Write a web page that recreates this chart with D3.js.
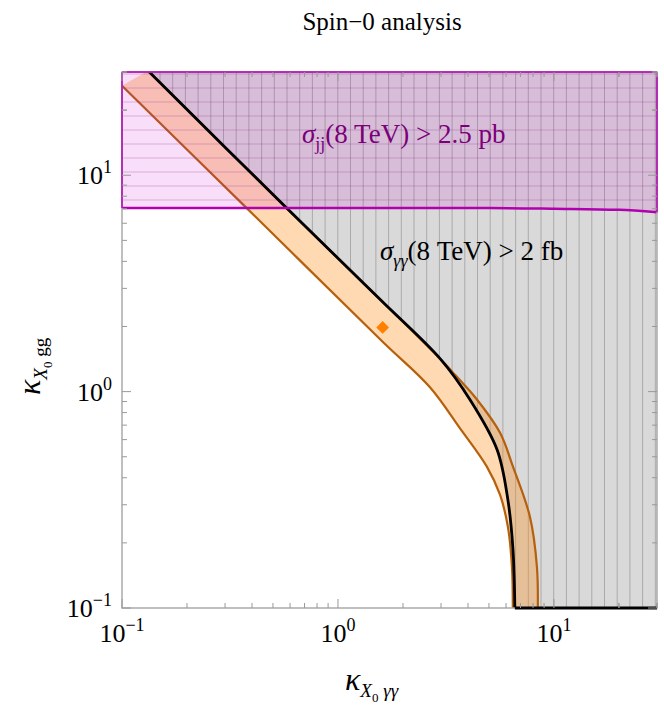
<!DOCTYPE html><html><head><meta charset="utf-8">
<script src="https://d3js.org/d3.v7.min.js"></script>
<style>body{margin:0;background:#fff}</style></head><body>
<script>
const title = "Spin\u22120 analysis";
const blackCurve = [[0.132,30.4],[0.58,7.03],[1.59,2.63],[2.99,1.41],[4.08,0.92],[5.45,0.54],[6.12,0.316],[6.46,0.186],[6.59,0.1]];
const bandUpper = [[0.132,30.4],[0.58,7.03],[1.59,2.63],[2.99,1.41],[3.5,1.19],[4.4,0.92],[5.63,0.645],[6.46,0.45],[7.74,0.264],[8.34,0.155],[8.42,0.1]];
const bandLower = [[0.1,25.9],[0.379,7.03],[1.61,1.70],[2.66,1.05],[3.66,0.68],[4.89,0.45],[5.63,0.333],[6.12,0.237],[6.39,0.155],[6.45,0.1]];
const jjLine = [[0.1,7.05],[1,7.05],[5,7.05],[10,7.0],[20,6.92],[30,6.75]];
const point = [1.61,1.98];
const tickVals = [0.1,1,10];
const tickExp = ["\u22121","0","1"];

const W=664,H=709,L=122,R=657,T=72,B=608;
const svg=d3.select("body").append("svg").attr("width",W).attr("height",H).style("font-family","'Liberation Serif', serif");
const x=d3.scaleLog().domain([0.1,30]).range([L,R]);
const y=d3.scaleLog().domain([0.1,30]).range([B,T]);
const line=d3.line().x(d=>x(d[0])).y(d=>y(d[1])).curve(d3.curveCatmullRom.alpha(0.5));
const defs=svg.append("defs");
defs.append("clipPath").attr("id","plot").append("rect").attr("x",L).attr("y",T).attr("width",R-L).attr("height",B-T);
const grayPath=line(blackCurve)+"L"+x(30)+","+y(0.1)+"L"+x(30)+","+y(30)+"Z";
defs.append("clipPath").attr("id","gray").append("path").attr("d",grayPath);
const g=svg.append("g").attr("clip-path","url(#plot)");
g.append("path").attr("d",grayPath).attr("fill","#d9d9d9");
const gh=g.append("g").attr("clip-path","url(#gray)");
for(let px=L+38;px<R;px+=12.7) gh.append("line").attr("x1",px).attr("x2",px).attr("y1",T).attr("y2",B).attr("stroke","#aaa").attr("stroke-width",1);
const bandPath=line(bandUpper)+"L"+line(bandLower.slice().reverse()).slice(1)+"Z";
g.append("path").attr("d",bandPath).attr("fill","rgba(255,140,20,0.33)");
g.append("path").attr("d",line(bandUpper)).attr("fill","none").attr("stroke","#b5600c").attr("stroke-width",2.2);
g.append("path").attr("d",line(bandLower)).attr("fill","none").attr("stroke","#b5600c").attr("stroke-width",2.2);
const jjArea=d3.area().x(d=>x(d[0])).y0(T).y1(d=>y(d[1]));
g.append("path").attr("d",jjArea(jjLine)).attr("fill","rgba(204,0,204,0.13)");
defs.append("clipPath").attr("id","jj").append("path").attr("d",jjArea(jjLine));
const jh=g.append("g").attr("clip-path","url(#jj)");
for(let py=T+2;py<y(7.05);py+=14) jh.append("line").attr("x1",L).attr("x2",R).attr("y1",py).attr("y2",py).attr("stroke","rgba(150,60,150,0.3)");
g.append("path").attr("d",line(blackCurve)).attr("fill","none").attr("stroke","#000").attr("stroke-width",2.8);
g.append("path").attr("d",d3.line().x(d=>x(d[0])).y(d=>y(d[1])).curve(d3.curveMonotoneX)(jjLine)).attr("fill","none").attr("stroke","#b000b0").attr("stroke-width",2.5);
g.append("rect").attr("width",9).attr("height",9).attr("x",x(point[0])-4.5).attr("y",y(point[1])-4.5).attr("fill","#ff8000").attr("transform",`rotate(45,${x(point[0])},${y(point[1])})`);
svg.append("rect").attr("x",L).attr("y",T).attr("width",R-L).attr("height",B-T).attr("fill","none").attr("stroke","#aaa").attr("stroke-width",1.5);
svg.append("line").attr("x1",L).attr("x2",R).attr("y1",T).attr("y2",T).attr("stroke","#b000b0").attr("stroke-width",1.5);
svg.append("line").attr("x1",L).attr("x2",L).attr("y1",T).attr("y2",y(7.05)).attr("stroke","#b000b0").attr("stroke-width",1.5);
svg.append("line").attr("x1",R).attr("x2",R).attr("y1",T).attr("y2",y(6.75)).attr("stroke","#b000b0").attr("stroke-width",1.5);
svg.append("line").attr("x1",x(6.59)).attr("x2",R).attr("y1",B).attr("y2",B).attr("stroke","#000").attr("stroke-width",3);
const all=[];for(let e=-1;e<=1;e++)for(let m=1;m<=9;m++){const v=m*Math.pow(10,e);if(v<=30)all.push(v);}all.push(20,30);
const tk=svg.append("g").attr("stroke","#999").attr("stroke-width",1);
all.forEach(v=>{const major=[0.1,1,10].includes(v);const len=major?9:5;
 tk.append("line").attr("x1",x(v)).attr("x2",x(v)).attr("y1",B).attr("y2",B-len);
 tk.append("line").attr("x1",x(v)).attr("x2",x(v)).attr("y1",T).attr("y2",T+len);
 tk.append("line").attr("y1",y(v)).attr("y2",y(v)).attr("x1",L).attr("x2",L+len);
 tk.append("line").attr("y1",y(v)).attr("y2",y(v)).attr("x1",R).attr("x2",R-len);});
tickVals.forEach((v,i)=>{
 const t=svg.append("text").attr("x",x(v)).attr("y",642).attr("text-anchor","middle").attr("font-size",26);
 t.append("tspan").text("10");t.append("tspan").attr("dy",-11).attr("font-size",18).text(tickExp[i]);
 const t2=svg.append("text").attr("x",112).attr("y",y(v)+9).attr("text-anchor","end").attr("font-size",26);
 t2.append("tspan").text("10");t2.append("tspan").attr("dy",-11).attr("font-size",18).text(tickExp[i]);
});
svg.append("text").attr("x",382).attr("y",30).attr("text-anchor","middle").attr("font-size",25).text(title);
const xl=svg.append("text").attr("x",345).attr("y",690).attr("font-size",32);
xl.append("tspan").attr("font-style","italic").text("\u03ba");
xl.append("tspan").attr("font-size",19).attr("dy",7).attr("font-style","italic").text("X");
xl.append("tspan").attr("font-size",13).attr("dy",5).text("0");
xl.append("tspan").attr("font-size",19).attr("dy",-5).attr("font-style","italic").text(" \u03b3\u03b3");
const yl=svg.append("text").attr("transform","translate(40,395) rotate(-90)").attr("font-size",32);
yl.append("tspan").attr("font-style","italic").text("\u03ba");
yl.append("tspan").attr("font-size",19).attr("dy",7).attr("font-style","italic").text("X");
yl.append("tspan").attr("font-size",13).attr("dy",5).text("0");
yl.append("tspan").attr("font-size",19).attr("dy",-5).text(" gg");
const a1=svg.append("text").attr("x",302).attr("y",143).attr("font-size",27).attr("fill","#7a007a");
a1.append("tspan").attr("font-style","italic").text("\u03c3");
a1.append("tspan").attr("font-size",18).attr("dy",7).text("jj");
a1.append("tspan").attr("dy",-7).text("(8 TeV) > 2.5 pb");
const a2=svg.append("text").attr("x",380).attr("y",260).attr("font-size",27).attr("fill","#000");
a2.append("tspan").attr("font-style","italic").text("\u03c3");
a2.append("tspan").attr("font-size",18).attr("dy",7).attr("font-style","italic").text("\u03b3\u03b3");
a2.append("tspan").attr("dy",-7).text("(8 TeV) > 2 fb");
</script></body></html>
